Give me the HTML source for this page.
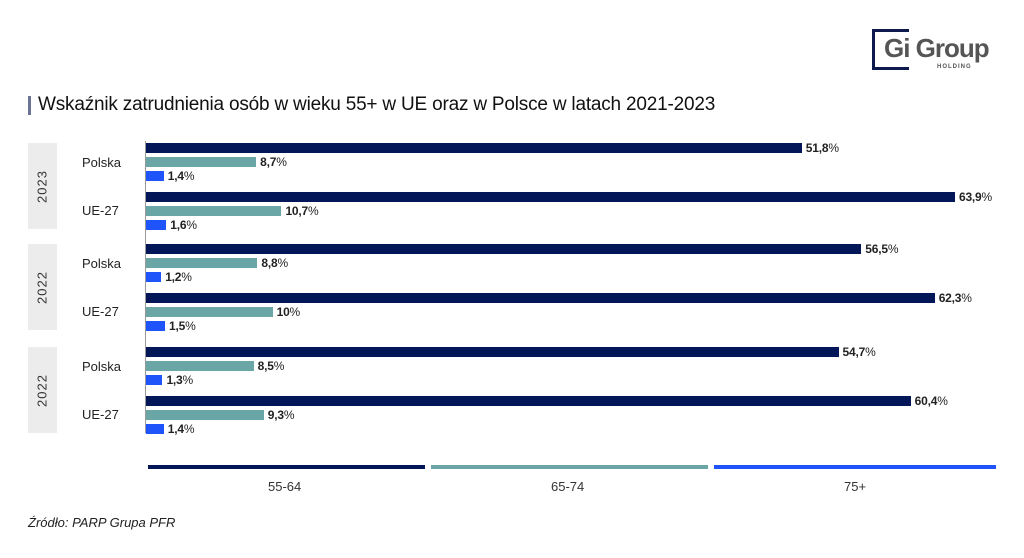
<!DOCTYPE html>
<html><head><meta charset="utf-8"><style>
body{margin:0;width:1024px;height:558px;background:#fff;font-family:"Liberation Sans",sans-serif;position:relative;overflow:hidden}
.a{position:absolute}
.b{position:absolute;height:10px}
.d{background:#021658}.t{background:#6aa6a6}.u{background:#1f54fb}
.v{position:absolute;font-size:12px;color:#222;line-height:12px;letter-spacing:-0.2px}
.v b{font-weight:bold}
.yb{position:absolute;left:28px;width:29px;background:#ececec}
.yt{position:absolute;transform:rotate(-90deg);font-size:13px;color:#333;letter-spacing:1px}
.lab{position:absolute;font-size:13px;color:#222;left:82px}
</style></head><body>
<div class="a" style="left:872px;top:29px;width:9px;height:41px;border:3px solid #0e1a4e;border-right:none;box-sizing:border-box"></div>
<div class="a" style="left:881px;top:29px;width:28px;height:3px;background:#0e1a4e"></div>
<div class="a" style="left:881px;top:67px;width:28px;height:3px;background:#0e1a4e"></div>
<div class="a" style="left:884px;top:33px;font-size:26px;font-weight:bold;color:#555;letter-spacing:-1px">Gi Group</div>
<div class="a" style="left:937px;top:64px;font-size:6px;font-weight:bold;color:#555;letter-spacing:1px">HOLDING</div>
<div class="a" style="left:28px;top:96px;width:3px;height:19px;background:#6b7494"></div>
<div class="a" style="left:38px;top:94px;font-size:19px;color:#111;letter-spacing:-0.2px">Wskaźnik zatrudnienia osób w wieku 55+ w UE oraz w Polsce w latach 2021-2023</div>
<div class="a" style="left:145px;top:141px;width:1px;height:292px;background:#999"></div>
<div id="c"></div>
<div class="a" style="left:148px;top:465px;width:277px;height:4px;background:#021658"></div>
<div class="a" style="left:431px;top:465px;width:277px;height:4px;background:#6aa6a6"></div>
<div class="a" style="left:714px;top:465px;width:282px;height:4px;background:#1f54fb"></div>
<div class="a" style="left:268px;top:479px;font-size:13px;color:#333">55-64</div>
<div class="a" style="left:551px;top:479px;font-size:13px;color:#333">65-74</div>
<div class="a" style="left:844px;top:479px;font-size:13px;color:#333">75+</div>
<div class="a" style="left:28px;top:515px;font-size:13px;font-style:italic;color:#222">Źródło: PARP Grupa PFR</div>
<script>
var g=[[148,"2023",[51.8,8.7,1.4],[63.9,10.7,1.6]],[249,"2022",[56.5,8.8,1.2],[62.3,10,1.5]],[352,"2022",[54.7,8.5,1.3],[60.4,9.3,1.4]]];
var h="",k=12.66,cls=["d","t","u"];
function f(v){var s=String(v).replace(".",",");return "<b>"+s+"</b>%";}
g.forEach(function(G){var y=G[0];
h+='<div class="yb" style="top:'+(y-5)+'px;height:86px"></div>';
h+='<div class="yt" style="left:19px;top:'+(y+31)+'px;width:46px;text-align:center">'+G[1]+'</div>';
h+='<div class="lab" style="top:'+(y+7)+'px">Polska</div><div class="lab" style="top:'+(y+55)+'px">UE-27</div>';
[G[2],G[3]].forEach(function(r,j){r.forEach(function(v,i){var yy=y+j*49+i*14-5,w=v*k;
h+='<div class="b '+cls[i]+'" style="left:146px;top:'+yy+'px;width:'+w+'px"></div>';
h+='<div class="v" style="left:'+(150+w)+'px;top:'+(yy-1)+'px">'+f(v)+'</div>';});});});
document.getElementById("c").innerHTML=h;
</script>
</body></html>
